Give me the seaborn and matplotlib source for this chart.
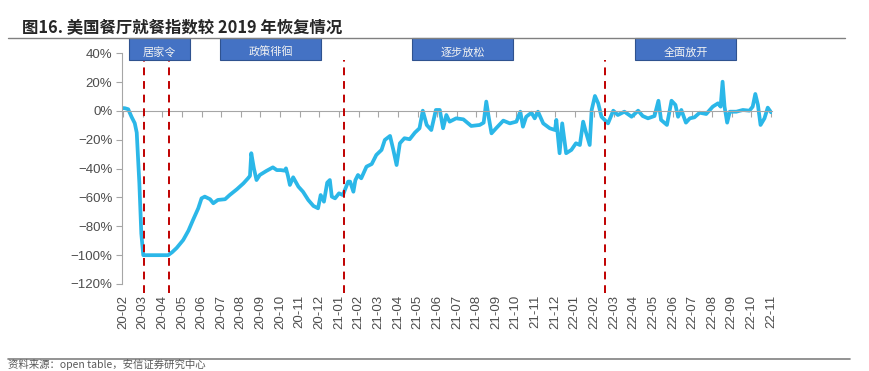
import matplotlib
matplotlib.use("Agg")
import matplotlib.pyplot as plt
import matplotlib.ticker as mticker
from matplotlib.lines import Line2D
from matplotlib.patches import Rectangle
import matplotlib.transforms as mtransforms
import numpy as np
import pandas as pd
import seaborn as sns

# 数据：距 2020-02-18 的天数，及较 2019 年同期的变化（%）
start = pd.Timestamp("2020-02-18")
days = [0, 3, 8, 13, 18, 21, 25, 28, 31, 45, 60, 69, 75, 82, 92, 100, 107, 115, 120,
        125, 130, 133, 138, 145, 156, 163, 174, 184, 191, 194, 196, 200, 204, 209, 219,
        229, 235, 241, 247, 249, 252, 255, 260, 268, 275, 283, 291, 298, 302, 307, 312,
        316, 319, 324, 330, 336, 341, 344, 347, 352, 355, 359, 364, 372, 380, 387, 395,
        400, 408, 413, 418, 423, 430, 438, 446, 453, 458, 464, 471, 478, 484, 489, 494,
        499, 509, 520, 532, 545, 551, 555, 559, 563, 570, 581, 591, 601, 607, 611, 616,
        624, 629, 634, 642, 652, 660, 662, 667, 671, 677, 685, 692, 698, 703, 707, 713,
        716, 721, 726, 731, 741, 749, 756, 766, 777, 787, 794, 802, 812, 818, 822, 831,
        838, 844, 848, 853, 860, 866, 873, 881, 891, 901, 909, 913, 916, 919, 923, 927,
        937, 947, 957, 962, 966, 970, 974, 980, 985, 990]
values = [2, 1.9, 1.2, -4, -8.5, -15, -50, -85, -100, -100, -100, -100, -98, -95, -89.5,
          -83, -75.6, -67.5, -60.6, -59.4, -60.5, -61.2, -64, -61.7, -61.2, -58.3, -54.3,
          -50.2, -46.7, -45, -29.3, -39.8, -47.9, -44.4, -41.6, -39.1, -41, -41, -41.4,
          -39.8, -45, -51.3, -46, -52.5, -56, -61.7, -65.9, -67.5, -58.3, -62.9, -49.7,
          -47.9, -59.4, -60.6, -57.1, -58.3, -52.5, -49, -49, -56, -48, -44.4, -46.7,
          -38.6, -36.8, -30.5, -27, -20.1, -17.3, -27, -37.5, -22.4, -18.9, -19.6, -15,
          -12, 0.2, -9.7, -13.2, 0.7, 0.7, -12, -2.8, -7.4, -5.1, -5.8, -10.4, -9.7, -8.1,
          6.5, -5.1, -15.5, -12, -6.7, -8.6, -7.4, -0.5, -10.9, -4, -1.2, -5.1, -0.5, -8.6,
          -12, -13.2, -6.2, -29.3, -8.6, -29.3, -27, -22.4, -23.6, -7.4, -14.3, -23.6, 0.7,
          10.4, 5.3, -4, -8.6, 0.2, -2.8, -0.5, -4, 0.2, -3.5, -5.1, -3.5, 7.1, -6.2, -9.7,
          7.1, 4.2, -4, 0.7, -8.1, -5.1, -4.4, -1.2, -2.1, 3, 5.3, 3, 20.3, 3, -8.1, -0.5,
          -0.5, 0.7, 0.2, 3, 11.8, 4.2, -9.7, -5.1, 2.3, -0.9]

# 政策节点（虚线）与阶段标注
event_days = [32, 71, 338, 737]
phase_labels = ["居家令", "政策徘徊", "逐步放松", "全面放开"]
phase_spans = [(9.5, 102), (148, 303), (441, 596), (782, 937)]

tick_days = list(range(0, 991, 30))
tick_labels = [(start + pd.Timedelta(days=d)).strftime("%y-%m") for d in tick_days]

df = pd.DataFrame({"day": days, "value": values})

sns.set_style("white")
plt.rcParams["font.family"] = ["Liberation Sans", "Noto Sans CJK SC", "DejaVu Sans"]
plt.rcParams["axes.unicode_minus"] = True

fig = plt.figure(figsize=(8.69, 3.71), dpi=100)
ax = fig.add_axes([122 / 869, 1 - 284 / 371, 650 / 869, 230.7 / 371])

sns.lineplot(data=df, x="day", y="value", ax=ax, color="#2BB7E8", linewidth=2.7)

ax.set_xlim(-1.5, 991.5)
ax.set_ylim(-120, 40)
ax.set_yticks(np.arange(-120, 41, 20))
ax.yaxis.set_major_formatter(mticker.PercentFormatter(decimals=0))
ax.set_xlabel("")
ax.set_ylabel("")

grey = "#A6A6A6"
tick_col = "#4D4D4D"
for s in ["top", "right"]:
    ax.spines[s].set_visible(False)
ax.spines["left"].set_color(grey)
ax.spines["left"].set_linewidth(0.8)
ax.spines["bottom"].set_position(("data", 0))
ax.spines["bottom"].set_color(grey)
ax.spines["bottom"].set_linewidth(0.8)
ax.tick_params(axis="y", left=True, length=4, width=0.8, color=grey,
               labelsize=9.5, labelcolor=tick_col, pad=3)
ax.set_xticks(tick_days)
ax.tick_params(axis="x", bottom=True, direction="out", length=4, width=0.8,
               color=grey, labelbottom=False)

# 月份标签放在绘图区下方
sec = ax.secondary_xaxis("bottom")
sec.set_xticks(tick_days, labels=tick_labels, rotation=90)
sec.spines["bottom"].set_visible(False)
sec.tick_params(axis="x", length=0, pad=8, labelsize=9.5, labelcolor=tick_col)

# 红色虚线
for d in event_days:
    ax.axvline(d, ymin=-0.04, ymax=0.97, color="#C00000", linestyle=(0, (4, 3)),
               linewidth=1.4, clip_on=False, zorder=3)

# 阶段标注框
trans = mtransforms.blended_transform_factory(ax.transData, ax.transAxes)
box_bottom = (284 - 60) / 230.7
box_top = (284 - 38) / 230.7
for label, (x0, x1) in zip(phase_labels, phase_spans):
    ax.add_patch(Rectangle((x0, box_bottom), x1 - x0, box_top - box_bottom,
                           transform=trans, facecolor="#4472C4", edgecolor="#2F528F",
                           linewidth=0.8, clip_on=False, zorder=4))
    ax.text((x0 + x1) / 2, (284 - 52.5) / 230.7, label, transform=trans,
            ha="center", va="center", color="#F2F2F2", fontsize=8,
            family=["Noto Sans CJK SC", "DejaVu Sans"], zorder=5)

# 标题与分隔线
fig.text(22 / 869, 1 - 27 / 371, "图16. 美国餐厅就餐指数较 2019 年恢复情况",
         ha="left", va="center", fontsize=11.8, fontweight="bold", color="#262626",
         family=["Noto Sans CJK SC", "DejaVu Sans"])
fig.add_artist(Line2D([8 / 869, 845 / 869], [1 - 38 / 371, 1 - 38 / 371],
                      color="#808080", linewidth=1.0))
fig.add_artist(Line2D([8 / 869, 850 / 869], [1 - 359 / 371, 1 - 359 / 371],
                      color="#808080", linewidth=1.2))
fig.text(8 / 869, 0.6 / 371, "资料来源：open table，安信证券研究中心",
         ha="left", va="bottom", fontsize=7.5, style="italic", color="#595959",
         family=["Noto Sans CJK SC", "DejaVu Sans"])

fig.savefig("out.png", dpi=100)
